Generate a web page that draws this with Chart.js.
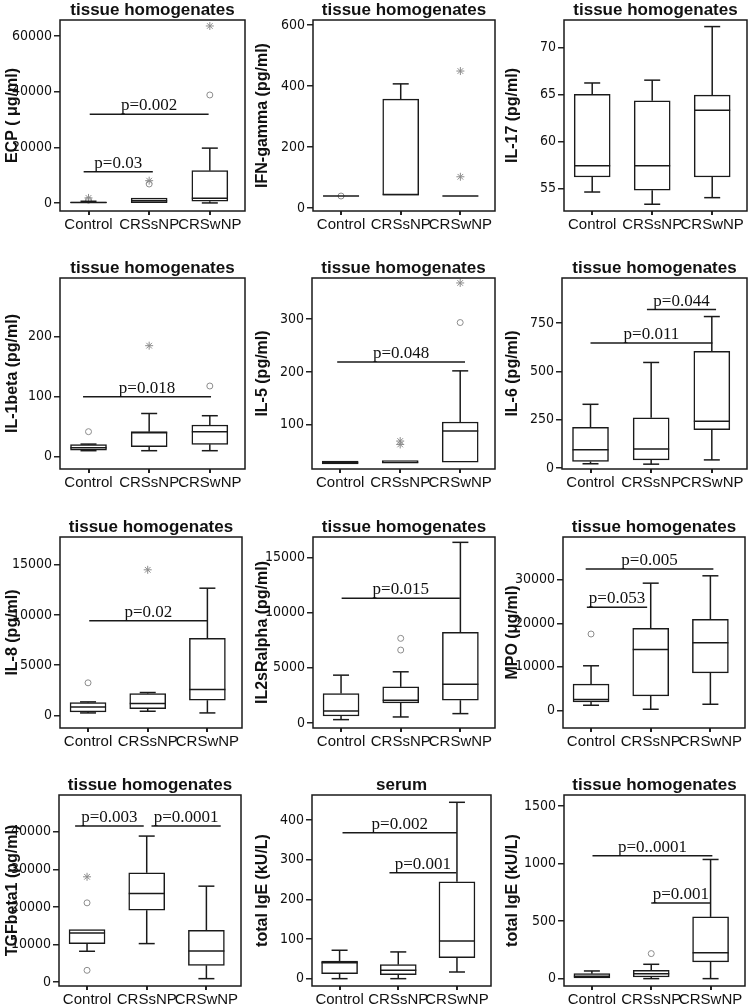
<!DOCTYPE html>
<html>
<head>
<meta charset="utf-8">
<script src="https://cdn.jsdelivr.net/npm/chart.js@4"></script>
<style>
  body { margin: 0; background: #fff; width: 750px; height: 1008px; overflow: hidden; position: relative; }
  .panel { position: absolute; width: 250px; height: 236px; }
</style>
</head>
<body>
<script>
const groups = ['Control', 'CRSsNP', 'CRSwNP'];

// box stats per group: [min, q1, median, q3, max]
// outliers: [group index, value]; p lines: [x from, x to, y, label]
const ecpBox = [[0, 50, 200, 350, 600], [0, 100, 800, 1700, 1700], [0, 600, 1700, 11600, 19700]];
const ecpCircles = [[0, 1000], [1, 6800], [2, 38800]];
const ecpStars = [[0, 1800], [1, 8000], [2, 63600]];
const ecpTicks = [0, 20000, 40000, 60000];
const ecpP = [[-0.08, 1.06, 11250, 'p=0.03'], [0.02, 1.98, 31900, 'p=0.002']];

const ifnBox = [[40, 40, 40, 40, 40], [43, 43, 45, 357, 407], [40, 40, 40, 40, 40]];
const ifnCircles = [[0, 40]];
const ifnStars = [[2, 449], [2, 103]];
const ifnTicks = [0, 200, 400, 600];
const ifnP = [];

const il17Box = [[54.6, 56.2, 57.4, 65.0, 66.2], [53.3, 54.8, 57.4, 64.3, 66.5], [54.0, 56.2, 63.3, 64.9, 72.2]];
const il17Ticks = [55, 60, 65, 70];

const il1bBox = [[10, 11, 15, 20, 21], [10, 16.7, 40, 41.7, 72], [10, 20.6, 41.7, 52.8, 68.3]];
const il1bCircles = [[0, 41.7], [2, 117.8]];
const il1bStars = [[1, 185]];
const il1bTicks = [0, 100, 200];
const il1bP = [[-0.09, 2.02, 100, 'p=0.018']];

const il5Box = [[25.7, 25.7, 28, 30.8, 30.8], [27, 27, 29, 32, 32], [29, 29, 88, 105, 202]];
const il5Circles = [[2, 293.6]];
const il5Stars = [[1, 69], [1, 62.5], [2, 368.6]];
const il5Ticks = [100, 200, 300];
const il5P = [[-0.05, 2.08, 219, 'p=0.048']];

const il6Box = [[23, 35, 95, 211, 330], [21, 43, 99, 260, 546], [43, 199, 243, 603, 783]];
const il6Ticks = [0, 250, 500, 750];
const il6P = [[0.0, 2.01, 646, 'p=0.011'], [0.93, 2.07, 819, 'p=0.044']];

const il8Box = [[233, 333, 833, 1267, 1333], [400, 667, 1167, 2167, 2267], [233, 1500, 2567, 7667, 12667]];
const il8Circles = [[0, 3233]];
const il8Stars = [[1, 14500]];
const il8Ticks = [0, 5000, 10000, 15000];
const il8P = [[0.02, 2.0, 9433, 'p=0.02']];

const il2Box = [[303, 636, 1091, 2667, 4333], [545, 1818, 2061, 3273, 4636], [848, 2061, 3515, 8212, 16364]];
const il2Circles = [[1, 7667], [1, 6606]];
const il2Ticks = [0, 5000, 10000, 15000];
const il2P = [[0.01, 1.99, 11300, 'p=0.015']];

const mpoBox = [[1154, 1923, 2462, 6000, 10231], [231, 3308, 14000, 18846, 29231], [1385, 8615, 15538, 20923, 30923]];
const mpoCircles = [[0, 17538]];
const mpoTicks = [0, 10000, 20000, 30000];
const mpoP = [[-0.07, 0.94, 23700, 'p=0.053'], [-0.09, 2.05, 32460, 'p=0.005']];

const tgfBox = [[8178, 10222, 13067, 13956, 13956], [10222, 19111, 23556, 29067, 38844], [889, 4444, 8267, 13778, 25511]];
const tgfCircles = [[0, 21067], [0, 3111]];
const tgfStars = [[0, 28000]];
const tgfTicks = [0, 10000, 20000, 30000, 40000];
const tgfP = [[-0.2, 0.95, 41500, 'p=0.003'], [1.08, 2.24, 41500, 'p=0.0001']];

const igeSerumBox = [[0, 12.6, 40.4, 44.6, 71.6], [0, 10, 21, 35.4, 67.4], [16.8, 53, 95, 244, 444.6]];
const igeSerumTicks = [0, 100, 200, 300, 400];
const igeSerumP = [[0.05, 2.0, 368, 'p=0.002'], [0.85, 1.99, 267, 'p=0.001']];

const igeTissueBox = [[0, 0, 20, 43.5, 66.7], [0, 14.5, 43.5, 72.5, 124.7], [0, 145, 226, 536.7, 1035.7]];
const igeTissueCircles = [[1, 217.6]];
const igeTissueTicks = [0, 500, 1000, 1500];
const igeTissueP = [[0.01, 2.03, 1068, 'p=0..0001'], [1.0, 2.0, 658, 'p=0.001']];

const TH = 'tissue homogenates';
const panels = [
  { title: TH, label: 'ECP ( μg/ml)', box: ecpBox, circles: ecpCircles, stars: ecpStars, ticks: ecpTicks, pvals: ecpP, min: -2900, max: 65750, left: 60, right: 2 },
  { title: TH, label: 'IFN-gamma (pg/ml)', box: ifnBox, circles: ifnCircles, stars: ifnStars, ticks: ifnTicks, pvals: ifnP, min: -9, max: 616, left: 63, right: 3 },
  { title: TH, label: 'IL-17 (pg/ml)', box: il17Box, circles: [], stars: [], ticks: il17Ticks, pvals: [], min: 52.58, max: 72.9, left: 64, right: 3 },
  { title: TH, label: 'IL-1beta (pg/ml)', box: il1bBox, circles: il1bCircles, stars: il1bStars, ticks: il1bTicks, pvals: il1bP, min: -20.5, max: 297.8, left: 60, right: 2 },
  { title: TH, label: 'IL-5 (pg/ml)', box: il5Box, circles: il5Circles, stars: il5Stars, ticks: il5Ticks, pvals: il5P, min: 16, max: 378, left: 62, right: 4 },
  { title: TH, label: 'IL-6 (pg/ml)', box: il6Box, circles: [], stars: [], ticks: il6Ticks, pvals: il6P, min: -4, max: 982, left: 62, right: 3 },
  { title: TH, label: 'IL-8 (pg/ml)', box: il8Box, circles: il8Circles, stars: il8Stars, ticks: il8Ticks, pvals: il8P, min: -1270, max: 17770, left: 60, right: 8 },
  { title: TH, label: 'IL2sRalpha (pg/ml)', box: il2Box, circles: il2Circles, stars: [], ticks: il2Ticks, pvals: il2P, min: -455, max: 16848, left: 63, right: 4 },
  { title: TH, label: 'MPO (μg/ml)', box: mpoBox, circles: mpoCircles, stars: [], ticks: mpoTicks, pvals: mpoP, min: -4077, max: 39846, left: 63, right: 4 },
  { title: TH, label: 'TGFbeta1 (pg/ml)', box: tgfBox, circles: tgfCircles, stars: tgfStars, ticks: tgfTicks, pvals: tgfP, min: -1067, max: 49778, left: 59, right: 9 },
  { title: 'serum', label: 'total IgE (kU/L)', box: igeSerumBox, circles: [], stars: [], ticks: igeSerumTicks, pvals: igeSerumP, min: -18.5, max: 463, left: 62, right: 9 },
  { title: TH, label: 'total IgE (kU/L)', box: igeTissueBox, circles: igeTissueCircles, stars: [], ticks: igeTissueTicks, pvals: igeTissueP, min: -64, max: 1596, left: 64, right: 4 },
];

const rowTops = [0, 258, 517, 775];
const INK = '#1a1a1a';
const GREY = '#8c8c8c';
const SANS = '"Liberation Sans", Arial, sans-serif';

// whiskers, medians, frame, p lines and title
function makeDecor(panel) {
  return {
    id: 'boxDecor',
    afterDatasetsDraw(chart) {
      const { ctx, chartArea: a, scales: { x, y } } = chart;
      const seg = (x1, y1, x2, y2) => {
        ctx.beginPath();
        ctx.moveTo(x1, y1);
        ctx.lineTo(x2, y2);
        ctx.stroke();
      };
      ctx.save();
      ctx.strokeStyle = INK;
      ctx.lineWidth = 1.5;

      panel.box.forEach((s, i) => {
        const cx = x.getPixelForValue(i);
        const [mn, q1, md, q3, mx] = s.map(v => y.getPixelForValue(v));
        if (mx < q3 - 0.5) { seg(cx, q3, cx, mx); seg(cx - 8, mx, cx + 8, mx); }
        if (mn > q1 + 0.5) { seg(cx, q1, cx, mn); seg(cx - 8, mn, cx + 8, mn); }
        seg(cx - 18, md, cx + 18, md);
      });

      ctx.strokeRect(a.left, a.top, a.width, a.height);

      ctx.fillStyle = '#111';
      ctx.font = '17px "Liberation Serif", "Times New Roman", serif';
      ctx.textAlign = 'center';
      ctx.textBaseline = 'alphabetic';
      panel.pvals.forEach(([x1, x2, v, text]) => {
        const px1 = x.getPixelForValue(x1);
        const px2 = x.getPixelForValue(x2);
        const py = y.getPixelForValue(v);
        seg(px1, py, px2, py);
        ctx.fillText(text, (px1 + px2) / 2, py - 4);
      });

      ctx.font = 'bold 17px ' + SANS;
      ctx.textBaseline = 'middle';
      ctx.fillText(panel.title, (a.left + a.right) / 2, a.top - 10);
      ctx.restore();
    },
  };
}

panels.forEach((panel, n) => {
  const div = document.createElement('div');
  div.className = 'panel';
  div.style.left = (n % 3) * 250 + 'px';
  div.style.top = rowTops[Math.floor(n / 3)] + 'px';
  const canvas = document.createElement('canvas');
  canvas.width = 250;
  canvas.height = 236;
  div.appendChild(canvas);
  document.body.appendChild(div);

  new Chart(canvas, {
    type: 'bar',
    data: {
      datasets: [
        {
          data: panel.box.map((s, i) => ({ x: i, y: [s[1], s[3]] })),
          backgroundColor: '#fff',
          borderColor: INK,
          borderWidth: 1.5,
          borderSkipped: false,
          barThickness: 36,
        },
        {
          type: 'scatter',
          data: panel.circles.map(([g, v]) => ({ x: g, y: v })),
          pointStyle: 'circle',
          pointRadius: 3,
          borderWidth: 1,
          borderColor: GREY,
          backgroundColor: 'rgba(255,255,255,0)',
        },
        {
          type: 'scatter',
          data: panel.stars.map(([g, v]) => ({ x: g, y: v })),
          pointStyle: 'star',
          pointRadius: 4,
          borderWidth: 1,
          borderColor: GREY,
          backgroundColor: GREY,
        },
      ],
    },
    options: {
      responsive: false,
      animation: false,
      events: [],
      layout: { padding: { top: 20, right: panel.right, left: 0, bottom: 0 } },
      plugins: { legend: { display: false }, tooltip: { enabled: false } },
      scales: {
        x: {
          type: 'linear',
          min: -0.47,
          max: 2.58,
          offset: false,
          afterBuildTicks: s => { s.ticks = [0, 1, 2].map(v => ({ value: v })); },
          afterFit: s => { s.height = 25; },
          ticks: {
            autoSkip: false,
            maxRotation: 0,
            minRotation: 0,
            padding: 1,
            color: '#111',
            font: { family: SANS, size: 15 },
            callback: v => groups[v],
          },
          grid: { offset: false, drawOnChartArea: false, tickLength: 4, color: '#222', lineWidth: 2 },
          border: { display: false },
        },
        y: {
          type: 'linear',
          min: panel.min,
          max: panel.max,
          afterBuildTicks: s => { s.ticks = panel.ticks.map(v => ({ value: v })); },
          afterFit: s => { s.width = panel.left; },
          ticks: {
            padding: 2,
            color: '#111',
            font: { family: '"Liberation Sans Narrow", "DejaVu Sans Condensed", sans-serif', size: 14 },
            callback: v => String(v),
          },
          grid: { drawOnChartArea: false, tickLength: 6, color: '#222', lineWidth: 1.5 },
          border: { display: false },
          title: {
            display: true,
            text: panel.label,
            color: '#111',
            font: { family: SANS, size: 16, weight: 'bold' },
            padding: { top: 3, bottom: 0 },
          },
        },
      },
    },
    plugins: [makeDecor(panel)],
  });
});
</script>
</body>
</html>
